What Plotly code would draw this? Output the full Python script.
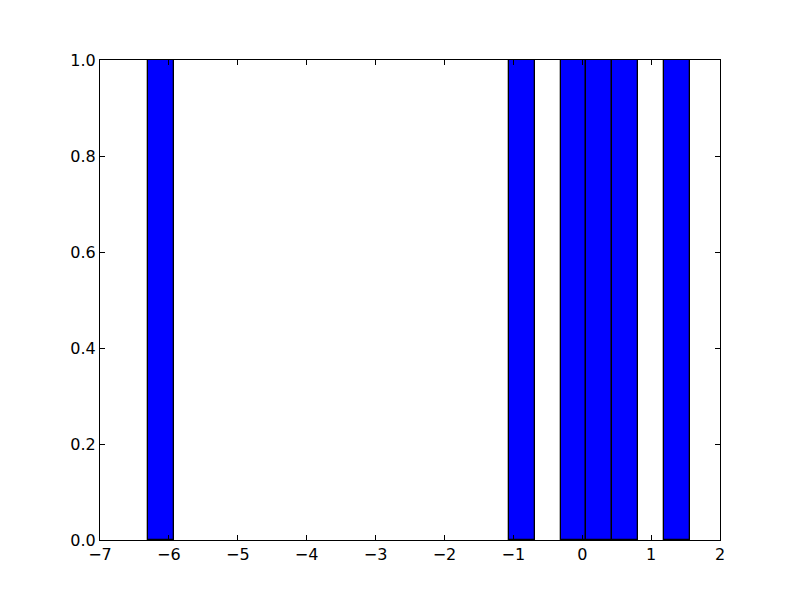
import plotly.graph_objects as go

# Histogram data (bin left edges and counts), 21 equal bins from min to max
bin_left = [-6.299, -1.061, -0.313, 0.061, 0.436, 1.184]
counts = [1, 1, 1, 1, 1, 1]
bin_width = 0.3742
x_ticks = [-7, -6, -5, -4, -3, -2, -1, 0, 1, 2]
y_ticks = [0.0, 0.2, 0.4, 0.6, 0.8, 1.0]

centers = [b + bin_width / 2 for b in bin_left]

fig = go.Figure(go.Bar(
    x=centers, y=counts, width=[bin_width] * len(centers),
    marker=dict(color="#0000ff", line=dict(color="black", width=1.3)),
))

axis_common = dict(
    showline=True, linecolor="black", linewidth=1, mirror="ticks",
    ticks="inside", ticklen=5, tickcolor="black", tickwidth=1,
    showgrid=False, zeroline=False,
    tickfont=dict(family="DejaVu Sans", size=16, color="black"),
)

fig.update_layout(
    width=800, height=600,
    margin=dict(l=92, r=88, t=52, b=68),
    paper_bgcolor="white", plot_bgcolor="white",
    showlegend=False,
    bargap=0,
    xaxis=dict(range=[-7, 2], tickvals=x_ticks, **axis_common),
    yaxis=dict(range=[0, 1], tickvals=y_ticks, tickformat=".1f", **axis_common),
)

fig.write_html("out.html")
